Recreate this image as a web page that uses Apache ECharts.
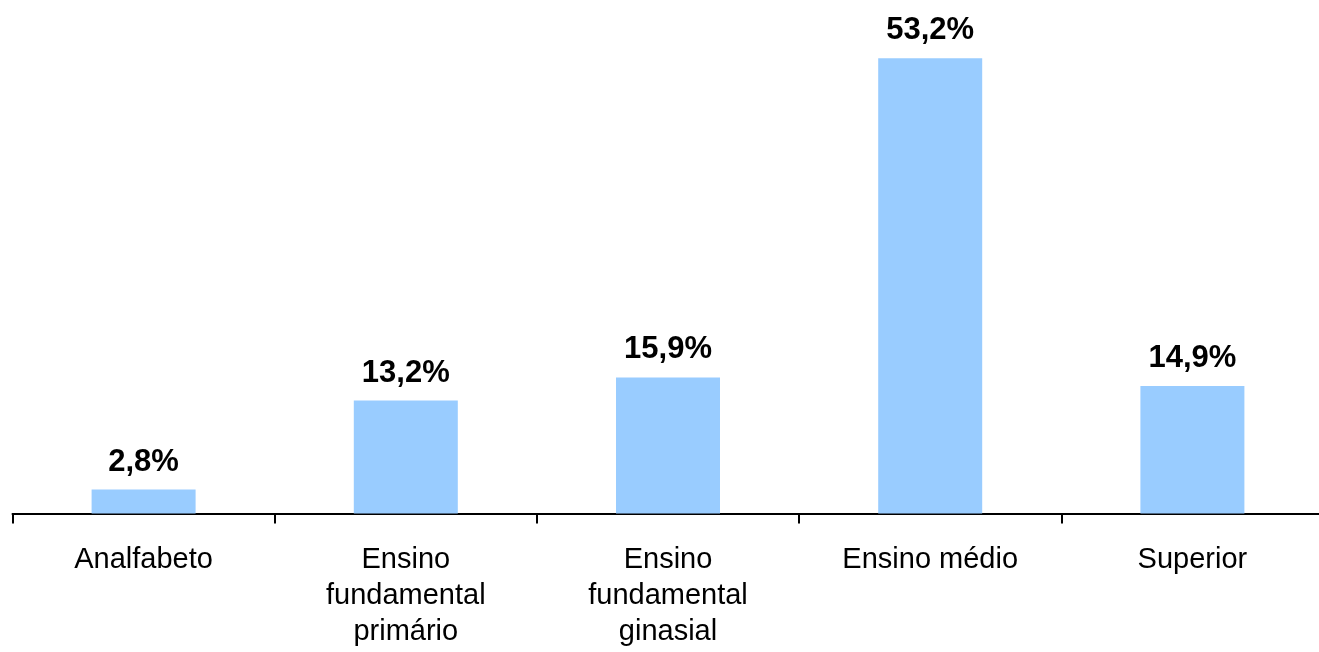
<!DOCTYPE html>
<html>
<head>
<meta charset="utf-8">
<script src="https://cdn.jsdelivr.net/npm/echarts@6/dist/echarts.min.js"></script>
<style>
html,body{margin:0;padding:0;background:#fff;}
#chart{width:1319px;height:652px;}
</style>
</head>
<body>
<div id="chart"></div>
<script>
var categories = ["Analfabeto", "Ensino\nfundamental\nprimário", "Ensino\nfundamental\nginasial", "Ensino médio", "Superior"];
var values = [2.8, 13.2, 15.9, 53.2, 14.9];

var chart = echarts.init(document.getElementById('chart'), null, {renderer: 'canvas'});
chart.setOption({
  animation: false,
  backgroundColor: '#ffffff',
  grid: {left: 12.5, width: 1311, top: 0, bottom: 138.5, containLabel: false, outerBoundsMode: 'none'},
  xAxis: {
    type: 'category',
    data: categories,
    boundaryGap: true,
    axisLine: {lineStyle: {color: '#000', width: 2}},
    axisTick: {show: true, length: 10, lineStyle: {color: '#000', width: 2}},
    axisLabel: {
      color: '#000', fontFamily: 'Liberation Sans, Arial, sans-serif', fontSize: 29,
      lineHeight: 36, margin: 28, interval: 0
    }
  },
  yAxis: {
    type: 'value', min: 0, max: 60, show: false,
    splitLine: {show: false}
  },
  series: [{
    type: 'bar',
    data: values,
    barWidth: 104,
    itemStyle: {color: '#99CCFF'},
    label: {
      show: true, position: 'top', distance: 12,
      color: '#000', fontWeight: 'bold', fontSize: 31,
      fontFamily: 'Liberation Sans, Arial, sans-serif',
      formatter: function (p) { return p.value.toFixed(1).replace('.', ',') + '%'; }
    }
  }]
});
</script>
</body>
</html>
